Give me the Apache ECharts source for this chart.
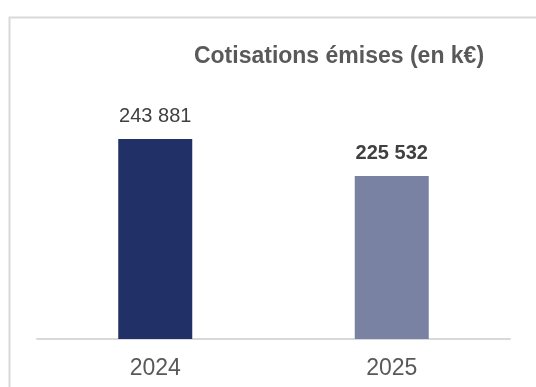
<!DOCTYPE html>
<html>
<head>
<meta charset="utf-8">
<script src="https://cdn.jsdelivr.net/npm/echarts@6/dist/echarts.min.js"></script>
<style>
  html, body { margin: 0; padding: 0; background: #ffffff; }
  #chart { width: 536px; height: 387px; }
</style>
</head>
<body>
<div id="chart"></div>
<script>
// Cotisations émises, en milliers d'euros
const years = ['2024', '2025'];
const cotisations = [243881, 225532];
const barColors = ['#213066', '#7982A3'];
const boldLabel = [false, true];
const titleText = 'Cotisations émises (en k€)';

// "243881" -> "243 881"
function groupThousands(v) {
  return String(v).replace(/\B(?=(\d{3})+(?!\d))/g, ' ');
}

const chart = echarts.init(document.getElementById('chart'), null, { renderer: 'canvas' });

chart.setOption({
  animation: false,
  backgroundColor: '#ffffff',
  textStyle: { fontFamily: 'Liberation Sans, Arial, sans-serif' },
  title: {
    text: titleText,
    left: 334,
    top: 40,
    textAlign: 'center',
    textStyle: {
      fontFamily: 'Liberation Sans, Arial, sans-serif',
      fontSize: 23,
      fontWeight: 'bold',
      color: '#595959'
    }
  },
  graphic: [{
    type: 'rect',
    left: 7,
    top: 15,
    shape: { width: 620, height: 500 },
    style: { fill: 'none', stroke: '#d9d9d9', lineWidth: 2 },
    silent: true
  }],
  grid: { left: 37, right: 26, top: 25.5, bottom: 48, containLabel: false },
  xAxis: {
    type: 'category',
    data: years,
    axisTick: { show: false },
    axisLine: { lineStyle: { color: '#d9d9d9', width: 2 } },
    axisLabel: {
      fontSize: 23,
      color: '#595959',
      margin: 18,
      fontFamily: 'Liberation Sans, Arial, sans-serif'
    }
  },
  yAxis: {
    type: 'value',
    min: 145000,
    max: 300000,
    show: false,
    splitLine: { show: false }
  },
  series: [{
    type: 'bar',
    barWidth: 74,
    data: cotisations.map((v, i) => ({
      value: v,
      itemStyle: { color: barColors[i] },
      label: {
        fontWeight: boldLabel[i] ? 'bold' : 'normal',
        fontSize: 20
      }
    })),
    label: {
      show: true,
      position: 'top',
      distance: 13,
      color: '#404040',
      fontFamily: 'Liberation Sans, Arial, sans-serif',
      formatter: p => groupThousands(p.value)
    }
  }]
});
</script>
</body>
</html>
